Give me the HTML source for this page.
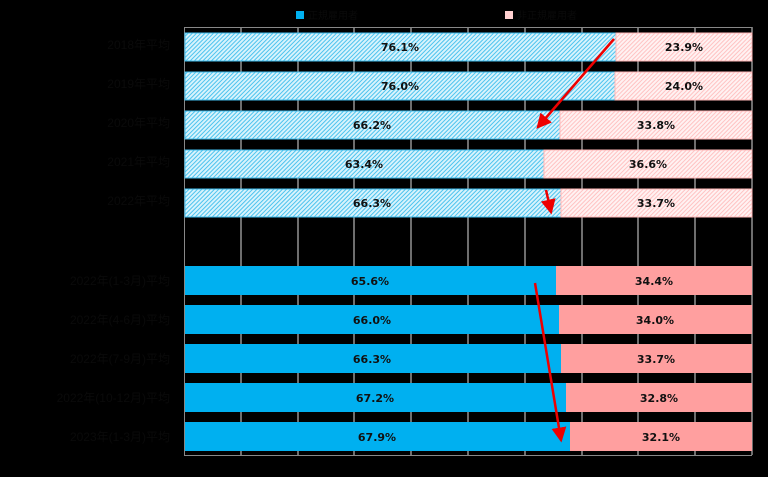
<!DOCTYPE html>
<html><head><meta charset="utf-8"><style>
body{margin:0;background:#000;width:768px;height:472px;overflow:hidden;font-family:"Liberation Sans","Noto Sans CJK JP",sans-serif}
</style></head><body>
<svg width="768" height="472" xmlns="http://www.w3.org/2000/svg">
<defs>
<pattern id="hb" patternUnits="userSpaceOnUse" width="3" height="3" patternTransform="rotate(-45)">
<rect width="3" height="3" fill="#d8f3fc"/><rect width="3" height="1" fill="#4cc3ee"/></pattern>
<pattern id="hp" patternUnits="userSpaceOnUse" width="3" height="3" patternTransform="rotate(-45)">
<rect width="3" height="3" fill="#fff2f2"/><rect width="3" height="1" fill="#ffc2c2"/></pattern>
<marker id="ar" markerWidth="6" markerHeight="6" refX="5" refY="3" orient="auto"><path d="M0,0L6,3L0,6z" fill="#e00"/></marker>
</defs>
<g stroke="#ddd" stroke-width="1">
<line x1="241" y1="27" x2="241" y2="455"/><line x1="298" y1="27" x2="298" y2="455"/><line x1="354" y1="27" x2="354" y2="455"/><line x1="411" y1="27" x2="411" y2="455"/><line x1="468" y1="27" x2="468" y2="455"/><line x1="525" y1="27" x2="525" y2="455"/><line x1="582" y1="27" x2="582" y2="455"/><line x1="638" y1="27" x2="638" y2="455"/><line x1="695" y1="27" x2="695" y2="455"/><line x1="752" y1="27" x2="752" y2="455"/>
</g>
<line x1="184.5" y1="27" x2="184.5" y2="456" stroke="#888"/>
<line x1="184" y1="455.5" x2="752" y2="455.5" stroke="#888"/>
<line x1="184" y1="27.5" x2="752" y2="27.5" stroke="#888"/>
<g font-size="11" font-weight="bold" fill="#111" text-anchor="middle" font-family="DejaVu Sans, sans-serif">
<rect x="185" y="33" width="431" height="28" fill="url(#hb)" stroke="#3fbdec"/><rect x="616" y="33" width="136" height="28" fill="url(#hp)" stroke="#ffb8b8"/>
<text x="400" y="51">76.1%</text><text x="684" y="51">23.9%</text>
<rect x="185" y="72" width="430" height="28" fill="url(#hb)" stroke="#3fbdec"/><rect x="615" y="72" width="137" height="28" fill="url(#hp)" stroke="#ffb8b8"/>
<text x="400" y="90">76.0%</text><text x="684" y="90">24.0%</text>
<rect x="185" y="111" width="375" height="28" fill="url(#hb)" stroke="#3fbdec"/><rect x="560" y="111" width="192" height="28" fill="url(#hp)" stroke="#ffb8b8"/>
<text x="372" y="129">66.2%</text><text x="656" y="129">33.8%</text>
<rect x="185" y="150" width="359" height="28" fill="url(#hb)" stroke="#3fbdec"/><rect x="544" y="150" width="208" height="28" fill="url(#hp)" stroke="#ffb8b8"/>
<text x="364" y="168">63.4%</text><text x="648" y="168">36.6%</text>
<rect x="185" y="189" width="376" height="28" fill="url(#hb)" stroke="#3fbdec"/><rect x="561" y="189" width="191" height="28" fill="url(#hp)" stroke="#ffb8b8"/>
<text x="372" y="207">66.3%</text><text x="656" y="207">33.7%</text>
<rect x="185" y="266" width="371" height="29" fill="#00b0f0"/><rect x="556" y="266" width="196" height="29" fill="#ff9f9f"/>
<text x="370" y="285">65.6%</text><text x="654" y="285">34.4%</text>
<rect x="185" y="305" width="374" height="29" fill="#00b0f0"/><rect x="559" y="305" width="193" height="29" fill="#ff9f9f"/>
<text x="372" y="324">66.0%</text><text x="655" y="324">34.0%</text>
<rect x="185" y="344" width="376" height="29" fill="#00b0f0"/><rect x="561" y="344" width="191" height="29" fill="#ff9f9f"/>
<text x="372" y="363">66.3%</text><text x="656" y="363">33.7%</text>
<rect x="185" y="383" width="381" height="29" fill="#00b0f0"/><rect x="566" y="383" width="186" height="29" fill="#ff9f9f"/>
<text x="375" y="402">67.2%</text><text x="659" y="402">32.8%</text>
<rect x="185" y="422" width="385" height="29" fill="#00b0f0"/><rect x="570" y="422" width="182" height="29" fill="#ff9f9f"/>
<text x="377" y="441">67.9%</text><text x="661" y="441">32.1%</text>
</g>
<g stroke="#e00" stroke-width="2.5" marker-end="url(#ar)">
<line x1="614" y1="39" x2="538" y2="127"/>
<line x1="546" y1="190" x2="551" y2="212"/>
<line x1="535" y1="283" x2="561" y2="440"/>
</g>
<g font-size="12" fill="#0a0a0a" text-anchor="end">
<text x="170" y="49">2018年平均</text><text x="170" y="88">2019年平均</text><text x="170" y="127">2020年平均</text><text x="170" y="166">2021年平均</text><text x="170" y="205">2022年平均</text>
<text x="170" y="285">2022年(1-3月)平均</text><text x="170" y="324">2022年(4-6月)平均</text><text x="170" y="363">2022年(7-9月)平均</text><text x="170" y="402">2022年(10-12月)平均</text><text x="170" y="441">2023年(1-3月)平均</text>
</g>
<rect x="296" y="11" width="8" height="8" fill="#00b0f0"/><text x="308" y="19" font-size="10" fill="#0a0a0a">正規雇用者</text>
<rect x="505" y="11" width="8" height="8" fill="#ffd0d0"/><text x="517" y="19" font-size="10" fill="#0a0a0a">非正規雇用者</text>
</svg>
</body></html>
